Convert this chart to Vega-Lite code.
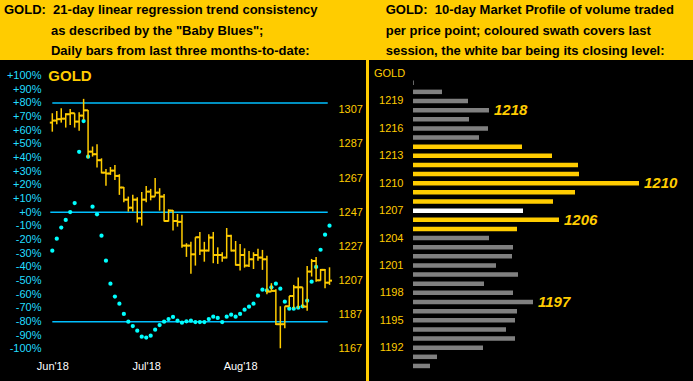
{
  "$schema": "https://vega.github.io/schema/vega-lite/v6.json",
  "background": "#FFCC00",
  "padding": {"top": 4, "left": 0, "right": 0, "bottom": 0},
  "spacing": 3,
  "config": {
    "view": {"fill": "black", "stroke": null},
    "font": "Liberation Sans",
    "title": {"anchor": "start", "frame": "group", "fontSize": 13, "fontWeight": "bold", "color": "black", "lineHeight": 20.5, "offset": 2, "font": "Liberation Sans"},
    "axis": {"grid": false, "domain": false, "ticks": false, "tickSize": 0, "labelFont": "Liberation Sans", "labelFontSize": 11, "labelOverlap": false, "labelBound": false, "labelSeparation": 0, "title": null}
  },
  "datasets": {
    "daily": [
      {"i":1,"d":"2018-06-01","o":1299.5,"h":1305.0,"l":1294.2,"c":1300.7,"bb":-28.1},
      {"i":2,"d":"2018-06-04","o":1300.7,"h":1306.3,"l":1298.5,"c":1301.5,"bb":-19.3},
      {"i":3,"d":"2018-06-05","o":1301.5,"h":1307.9,"l":1299.5,"c":1301.8,"bb":-11.2},
      {"i":4,"d":"2018-06-06","o":1301.8,"h":1305.0,"l":1296.6,"c":1304.4,"bb":-5.6},
      {"i":5,"d":"2018-06-07","o":1304.4,"h":1307.5,"l":1298.1,"c":1305.0,"bb":0.2},
      {"i":6,"d":"2018-06-08","o":1305.0,"h":1305.0,"l":1296.6,"c":1300.1,"bb":6.8},
      {"i":7,"d":"2018-06-11","o":1300.1,"h":1305.6,"l":1294.8,"c":1303.6,"bb":44.3},
      {"i":8,"d":"2018-06-12","o":1303.6,"h":1313.4,"l":1301.1,"c":1306.7,"bb":66.8},
      {"i":9,"d":"2018-06-13","o":1306.7,"h":1306.9,"l":1278.6,"c":1282.5,"bb":40.7},
      {"i":10,"d":"2018-06-14","o":1282.5,"h":1285.5,"l":1279.6,"c":1281.0,"bb":4.1},
      {"i":11,"d":"2018-06-15","o":1281.0,"h":1286.8,"l":1273.2,"c":1277.5,"bb":-1.5},
      {"i":12,"d":"2018-06-18","o":1277.5,"h":1278.6,"l":1269.8,"c":1270.2,"bb":-17.1},
      {"i":13,"d":"2018-06-19","o":1270.2,"h":1272.4,"l":1262.6,"c":1269.7,"bb":-35.4},
      {"i":14,"d":"2018-06-20","o":1269.7,"h":1273.5,"l":1268.9,"c":1271.4,"bb":-52.2},
      {"i":15,"d":"2018-06-21","o":1271.4,"h":1274.7,"l":1265.9,"c":1268.3,"bb":-61.7},
      {"i":16,"d":"2018-06-22","o":1268.3,"h":1269.3,"l":1257.2,"c":1261.5,"bb":-66.9},
      {"i":17,"d":"2018-06-25","o":1261.5,"h":1261.8,"l":1252.9,"c":1254.4,"bb":-74.4},
      {"i":18,"d":"2018-06-26","o":1254.4,"h":1256.2,"l":1247.4,"c":1249.7,"bb":-80.0},
      {"i":19,"d":"2018-06-27","o":1249.7,"h":1257.2,"l":1247.4,"c":1254.4,"bb":-83.2},
      {"i":20,"d":"2018-06-28","o":1254.4,"h":1255.8,"l":1241.0,"c":1243.5,"bb":-86.6},
      {"i":21,"d":"2018-06-29","o":1243.5,"h":1258.9,"l":1239.2,"c":1254.4,"bb":-91.0},
      {"i":22,"d":"2018-07-02","o":1254.4,"h":1262.4,"l":1252.9,"c":1259.1,"bb":-91.7},
      {"i":23,"d":"2018-07-03","o":1259.1,"h":1260.7,"l":1254.0,"c":1256.2,"bb":-90.3},
      {"i":24,"d":"2018-07-05","o":1256.2,"h":1267.1,"l":1256.2,"c":1258.5,"bb":-85.9},
      {"i":25,"d":"2018-07-06","o":1258.5,"h":1261.1,"l":1248.0,"c":1256.2,"bb":-82.5},
      {"i":26,"d":"2018-07-09","o":1256.2,"h":1257.7,"l":1241.6,"c":1241.9,"bb":-80.0},
      {"i":27,"d":"2018-07-10","o":1241.9,"h":1248.8,"l":1241.6,"c":1248.0,"bb":-78.1},
      {"i":28,"d":"2018-07-11","o":1248.0,"h":1248.4,"l":1236.3,"c":1241.9,"bb":-76.6},
      {"i":29,"d":"2018-07-12","o":1241.9,"h":1246.0,"l":1238.6,"c":1241.4,"bb":-79.3},
      {"i":30,"d":"2018-07-13","o":1241.4,"h":1245.5,"l":1226.3,"c":1227.5,"bb":-80.8},
      {"i":31,"d":"2018-07-16","o":1227.5,"h":1228.9,"l":1220.9,"c":1227.5,"bb":-79.8},
      {"i":32,"d":"2018-07-17","o":1227.5,"h":1229.8,"l":1211.1,"c":1222.4,"bb":-79.3},
      {"i":33,"d":"2018-07-18","o":1222.4,"h":1232.4,"l":1215.8,"c":1232.4,"bb":-80.3},
      {"i":34,"d":"2018-07-19","o":1232.4,"h":1235.5,"l":1222.0,"c":1224.6,"bb":-80.3},
      {"i":35,"d":"2018-07-20","o":1224.6,"h":1229.7,"l":1218.1,"c":1224.6,"bb":-80.3},
      {"i":36,"d":"2018-07-23","o":1224.6,"h":1234.1,"l":1224.0,"c":1232.2,"bb":-78.1},
      {"i":37,"d":"2018-07-24","o":1232.2,"h":1235.5,"l":1217.2,"c":1222.0,"bb":-76.4},
      {"i":38,"d":"2018-07-25","o":1222.0,"h":1226.5,"l":1216.8,"c":1222.0,"bb":-77.3},
      {"i":39,"d":"2018-07-26","o":1222.0,"h":1223.6,"l":1218.1,"c":1220.5,"bb":-80.3},
      {"i":40,"d":"2018-07-27","o":1220.5,"h":1237.8,"l":1220.0,"c":1233.2,"bb":-76.4},
      {"i":41,"d":"2018-07-30","o":1233.2,"h":1233.8,"l":1224.0,"c":1224.6,"bb":-74.9},
      {"i":42,"d":"2018-07-31","o":1224.6,"h":1230.2,"l":1215.8,"c":1216.2,"bb":-76.4},
      {"i":43,"d":"2018-08-01","o":1216.2,"h":1228.5,"l":1212.9,"c":1222.0,"bb":-74.4},
      {"i":44,"d":"2018-08-02","o":1222.0,"h":1225.9,"l":1214.6,"c":1215.8,"bb":-71.3},
      {"i":45,"d":"2018-08-03","o":1215.8,"h":1224.4,"l":1215.0,"c":1219.5,"bb":-69.1},
      {"i":46,"d":"2018-08-06","o":1219.5,"h":1223.6,"l":1213.8,"c":1222.0,"bb":-66.9},
      {"i":47,"d":"2018-08-07","o":1222.0,"h":1225.6,"l":1218.7,"c":1220.5,"bb":-61.0},
      {"i":48,"d":"2018-08-08","o":1220.5,"h":1225.0,"l":1213.3,"c":1219.5,"bb":-56.6},
      {"i":49,"d":"2018-08-09","o":1219.5,"h":1221.5,"l":1199.0,"c":1200.6,"bb":-57.2},
      {"i":50,"d":"2018-08-10","o":1200.6,"h":1205.5,"l":1200.6,"c":1201.0,"bb":-54.9},
      {"i":51,"d":"2018-08-13","o":1201.0,"h":1202.0,"l":1181.1,"c":1181.5,"bb":-52.2},
      {"i":52,"d":"2018-08-14","o":1181.5,"h":1192.0,"l":1167.4,"c":1181.5,"bb":-55.9},
      {"i":53,"d":"2018-08-15","o":1181.5,"h":1192.0,"l":1179.1,"c":1192.0,"bb":-65.4},
      {"i":54,"d":"2018-08-16","o":1192.0,"h":1198.0,"l":1191.8,"c":1198.0,"bb":-70.5},
      {"i":55,"d":"2018-08-17","o":1198.0,"h":1204.5,"l":1190.8,"c":1203.1,"bb":-70.5},
      {"i":56,"d":"2018-08-20","o":1203.1,"h":1208.8,"l":1190.8,"c":1203.1,"bb":-69.8},
      {"i":57,"d":"2018-08-21","o":1203.1,"h":1203.1,"l":1191.8,"c":1191.8,"bb":-68.8},
      {"i":58,"d":"2018-08-22","o":1191.8,"h":1215.6,"l":1189.3,"c":1212.3,"bb":-64.7},
      {"i":59,"d":"2018-08-23","o":1212.3,"h":1219.7,"l":1209.4,"c":1218.5,"bb":-50.8},
      {"i":60,"d":"2018-08-24","o":1218.5,"h":1220.9,"l":1206.4,"c":1207.2,"bb":-40.0},
      {"i":61,"d":"2018-08-27","o":1207.2,"h":1213.8,"l":1207.0,"c":1213.3,"bb":-27.4},
      {"i":62,"d":"2018-08-28","o":1213.3,"h":1213.8,"l":1202.5,"c":1205.8,"bb":-16.4},
      {"i":63,"d":"2018-08-29","o":1205.8,"h":1214.8,"l":1204.5,"c":1207.0,"bb":-9.8}
    ],
    "levels": [
      {"p":80,"i1":1,"i2":62.6},
      {"p":0,"i1":0.55,"i2":62.6},
      {"p":-80,"i1":1,"i2":62.6}
    ],
    "profile": [
      {"price":1221,"vol":0.8,"kind":"prior","peak":false},
      {"price":1220,"vol":29,"kind":"prior","peak":false},
      {"price":1219,"vol":55,"kind":"prior","peak":false},
      {"price":1218,"vol":76,"kind":"prior","peak":true},
      {"price":1217,"vol":56,"kind":"prior","peak":false},
      {"price":1216,"vol":75,"kind":"prior","peak":false},
      {"price":1215,"vol":66,"kind":"prior","peak":false},
      {"price":1214,"vol":109,"kind":"session","peak":false},
      {"price":1213,"vol":139,"kind":"session","peak":false},
      {"price":1212,"vol":165,"kind":"session","peak":false},
      {"price":1211,"vol":166,"kind":"session","peak":false},
      {"price":1210,"vol":226,"kind":"session","peak":true},
      {"price":1209,"vol":162,"kind":"session","peak":false},
      {"price":1208,"vol":140,"kind":"session","peak":false},
      {"price":1207,"vol":110,"kind":"close","peak":false},
      {"price":1206,"vol":146,"kind":"session","peak":true},
      {"price":1205,"vol":104,"kind":"session","peak":false},
      {"price":1204,"vol":76,"kind":"prior","peak":false},
      {"price":1203,"vol":100,"kind":"prior","peak":false},
      {"price":1202,"vol":99,"kind":"prior","peak":false},
      {"price":1201,"vol":83,"kind":"prior","peak":false},
      {"price":1200,"vol":105,"kind":"prior","peak":false},
      {"price":1199,"vol":71,"kind":"prior","peak":false},
      {"price":1198,"vol":100,"kind":"prior","peak":false},
      {"price":1197,"vol":120,"kind":"prior","peak":true},
      {"price":1196,"vol":104,"kind":"prior","peak":false},
      {"price":1195,"vol":102,"kind":"prior","peak":false},
      {"price":1194,"vol":93,"kind":"prior","peak":false},
      {"price":1193,"vol":102,"kind":"prior","peak":false},
      {"price":1192,"vol":70,"kind":"prior","peak":false},
      {"price":1191,"vol":24,"kind":"prior","peak":false},
      {"price":1190,"vol":17,"kind":"prior","peak":false}
    ]
  },
  "hconcat": [
    {
      "width": 366,
      "height": 321,
      "title": {
        "text": [
          "GOLD:\u00a0\u00a021-day linear regression trend consistency",
          "\u200b\u00a0\u00a0\u00a0\u00a0\u00a0\u00a0\u00a0\u00a0\u00a0\u00a0\u00a0\u00a0\u00a0as described by the \"Baby Blues\";",
          "\u200b\u00a0\u00a0\u00a0\u00a0\u00a0\u00a0\u00a0\u00a0\u00a0\u00a0\u00a0\u00a0\u00a0Daily bars from last three months-to-date:"
        ],
        "dx": 4
      },
      "layer": [
        {
          "layer": [
            {
              "data": {"name": "levels"},
              "mark": {"type": "rule", "color": "#00BFFF", "strokeWidth": 1.5},
              "encoding": {
                "x": {"field": "i1", "type": "quantitative"},
                "x2": {"field": "i2"},
                "y": {"field": "p", "type": "quantitative"}
              }
            },
            {
              "data": {"name": "daily"},
              "mark": {"type": "point", "shape": "circle", "filled": true, "size": 18, "color": "#00FFFF", "opacity": 1},
              "encoding": {
                "x": {
                  "field": "i",
                  "type": "quantitative",
                  "scale": {"domain": [-10.70, 71.16], "nice": false, "zero": false},
                  "axis": {
                    "orient": "bottom",
                    "offset": -24,
                    "labelPadding": 3,
                    "labelColor": "white",
                    "tickCount": 10,
                    "values": [1, 22, 43],
                    "labelExpr": "datum.value == 1 ? \"Jun'18\" : datum.value == 22 ? \"Jul'18\" : \"Aug'18\""
                  }
                },
                "y": {
                  "field": "bb",
                  "type": "quantitative",
                  "scale": {"domain": [-123.44, 111.44], "nice": false, "zero": false},
                  "axis": {
                    "orient": "left",
                    "offset": -45,
                    "labelPadding": 4,
                    "labelColor": "#22DDFF",
                    "tickCount": 40,
                    "values": [-100, -90, -80, -70, -60, -50, -40, -30, -20, -10, 0, 10, 20, 30, 40, 50, 60, 70, 80, 90, 100],
                    "labelExpr": "(datum.value >= 0 ? '+' : '') + datum.value + '%'"
                  }
                }
              }
            },
            {
              "data": {"values": [{}]},
              "mark": {"type": "text", "align": "left", "baseline": "middle", "dx": -4, "fontSize": 15, "fontWeight": "bold", "color": "#FFCC00"},
              "encoding": {
                "x": {"datum": 1, "type": "quantitative"},
                "y": {"datum": 100, "type": "quantitative"},
                "text": {"value": "GOLD"}
              }
            }
          ]
        },
        {
          "data": {"name": "daily"},
          "layer": [
            {
              "mark": {"type": "rule", "color": "#FFCC00", "strokeWidth": 1.5},
              "encoding": {
                "x": {"field": "i", "type": "quantitative"},
                "y": {
                  "field": "l",
                  "type": "quantitative",
                  "scale": {"domain": [1148.25, 1336.15], "nice": false, "zero": false},
                  "axis": {
                    "orient": "right",
                    "offset": -32,
                    "labelPadding": 4,
                    "labelColor": "#FFCC00",
                    "tickCount": 20,
                    "format": "d",
                    "values": [1167, 1187, 1207, 1227, 1247, 1267, 1287, 1307]
                  }
                },
                "y2": {"field": "h"}
              }
            },
            {
              "mark": {"type": "rule", "color": "#FFCC00", "strokeWidth": 2, "xOffset": -2.5, "x2Offset": 0},
              "encoding": {
                "x": {"field": "i", "type": "quantitative"},
                "x2": {"field": "i"},
                "y": {"field": "o", "type": "quantitative"}
              }
            },
            {
              "mark": {"type": "rule", "color": "#FFCC00", "strokeWidth": 2, "xOffset": 0, "x2Offset": 2.5},
              "encoding": {
                "x": {"field": "i", "type": "quantitative"},
                "x2": {"field": "i"},
                "y": {"field": "c", "type": "quantitative"}
              }
            }
          ]
        }
      ],
      "resolve": {"scale": {"y": "independent"}}
    },
    {
      "width": 324,
      "height": 321,
      "title": {
        "text": [
          "GOLD:\u00a0\u00a010-day Market Profile of volume traded",
          "per price point; coloured swath covers last",
          "session, the white bar being its closing level:"
        ],
        "dx": 16.7
      },
      "layer": [
        {
          "data": {"name": "profile"},
          "mark": {"type": "bar", "orient": "horizontal", "size": 4.5},
          "encoding": {
            "y": {
              "field": "price",
              "type": "quantitative",
              "scale": {"domain": [1188.9, 1222.94], "nice": false, "zero": false},
              "axis": {
                "orient": "left",
                "offset": -38,
                "labelPadding": 4,
                "labelColor": "#FFCC00",
                "tickCount": 20,
                "format": "d",
                "values": [1192, 1195, 1198, 1201, 1204, 1207, 1210, 1213, 1216, 1219]
              }
            },
            "x": {"field": "vol", "type": "quantitative", "scale": {"domain": [-44, 280], "nice": false}, "axis": null},
            "color": {
              "field": "kind",
              "type": "nominal",
              "scale": {"domain": ["prior", "session", "close"], "range": ["#808080", "#FFCC00", "#FFFFFF"]},
              "legend": null
            }
          }
        },
        {
          "data": {"name": "profile"},
          "transform": [{"filter": "datum.peak"}],
          "mark": {"type": "text", "align": "left", "baseline": "middle", "dx": 5, "fontSize": 15, "fontWeight": "bold", "fontStyle": "italic", "color": "#FFCC00"},
          "encoding": {
            "y": {"field": "price", "type": "quantitative"},
            "x": {"field": "vol", "type": "quantitative"},
            "text": {"field": "price", "type": "nominal"}
          }
        },
        {
          "data": {"values": [{}]},
          "mark": {"type": "text", "align": "left", "baseline": "middle", "fontSize": 11, "color": "#FFCC00"},
          "encoding": {
            "x": {"datum": -39, "type": "quantitative"},
            "y": {"datum": 1222, "type": "quantitative"},
            "text": {"value": "GOLD"}
          }
        }
      ]
    }
  ]
}
